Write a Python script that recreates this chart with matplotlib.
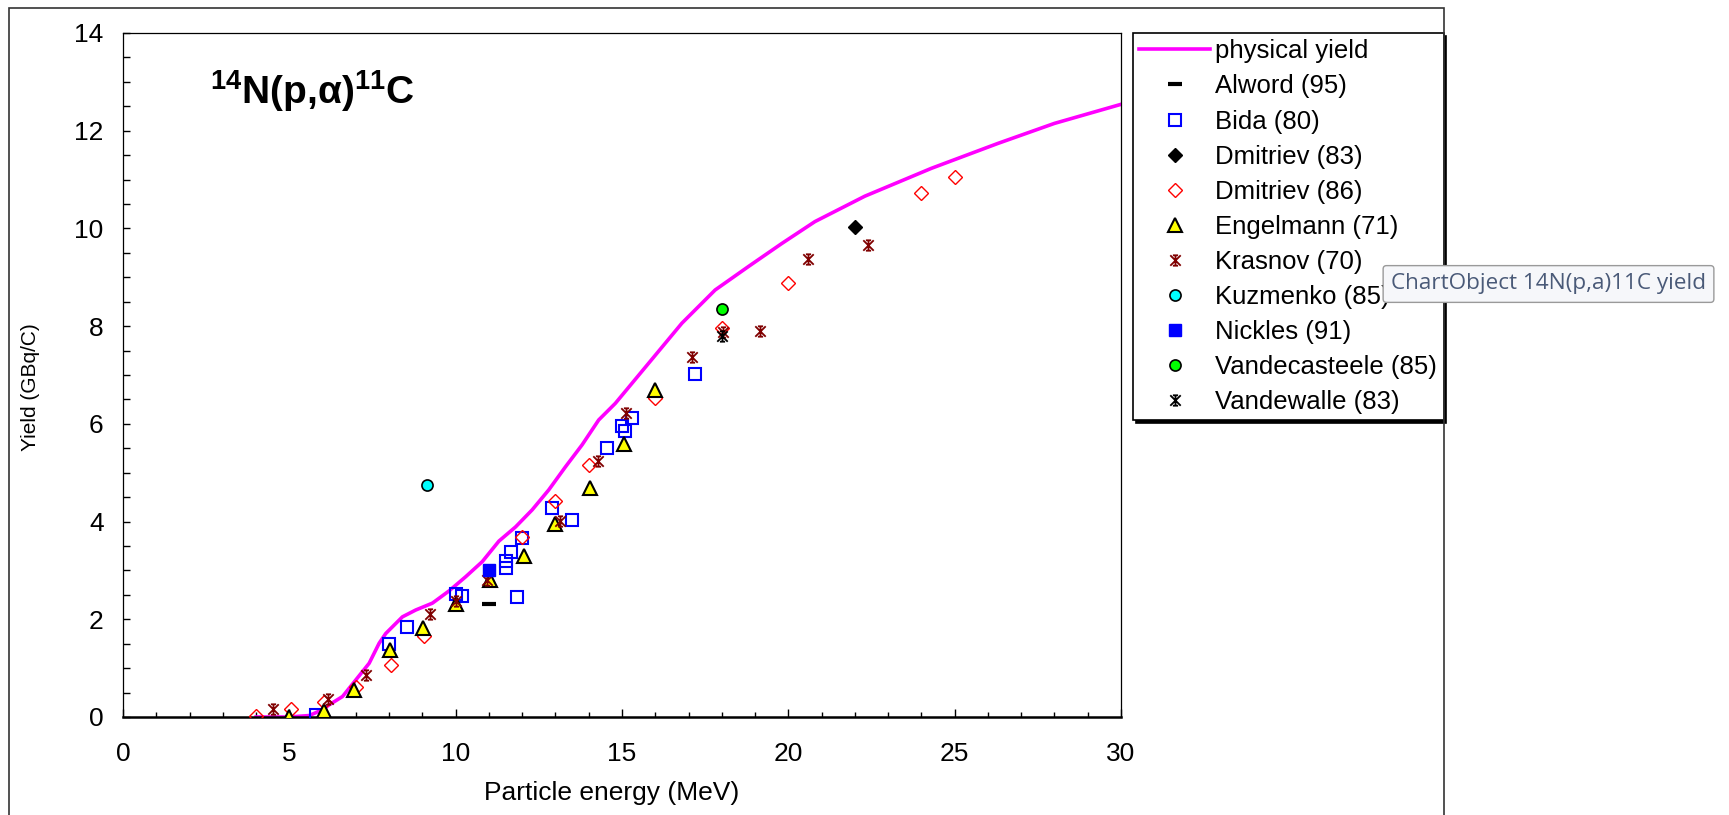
import matplotlib
matplotlib.use('Agg')
import matplotlib.pyplot as plt
from matplotlib.path import Path
from matplotlib.patches import Rectangle
from matplotlib.ticker import MultipleLocator

plt.rcParams['font.family'] = ['Liberation Sans', 'DejaVu Sans']
plt.rcParams['mathtext.fontset'] = 'custom'
plt.rcParams['mathtext.rm'] = 'Liberation Sans'
plt.rcParams['mathtext.bf'] = 'Liberation Sans:bold'

# physical yield curve
energy_curve = [4.0, 5.0, 5.6, 6.0, 6.2, 6.6, 7.0, 7.4, 7.7, 7.9, 8.4, 8.8, 9.3, 9.8,
                10.3, 10.8, 11.3, 11.8, 12.3, 12.8, 13.3, 13.8, 14.3, 14.8, 15.3, 15.8,
                16.8, 17.8, 18.8, 19.8, 20.8, 22.3, 24.3, 26.3, 28.0, 30.0]
yield_curve = [0.0, 0.0, 0.03, 0.15, 0.25, 0.42, 0.76, 1.10, 1.51, 1.71, 2.05, 2.19, 2.33, 2.58,
               2.87, 3.18, 3.60, 3.89, 4.24, 4.65, 5.12, 5.57, 6.08, 6.42, 6.83, 7.24,
               8.06, 8.74, 9.22, 9.69, 10.14, 10.66, 11.23, 11.74, 12.15, 12.54]

# measured data
alword_x = [11.0]
alword_y = [2.31]
bida_x = [5.8, 8.0, 8.55, 10.0, 10.2, 11.5, 11.5, 11.65, 11.85, 12.0, 12.9, 13.5,
          14.55, 15.0, 15.1, 15.3, 17.2]
bida_y = [0.04, 1.49, 1.84, 2.52, 2.47, 3.04, 3.20, 3.38, 2.46, 3.66, 4.27, 4.03,
          5.50, 5.96, 5.86, 6.11, 7.02]
dmitriev83_x = [22.0]
dmitriev83_y = [10.02]
dmitriev86_x = [4.0, 5.05, 6.05, 7.0, 8.05, 9.05, 12.0, 13.0, 14.0, 16.0, 18.0, 20.0, 24.0, 25.0]
dmitriev86_y = [0.02, 0.17, 0.31, 0.61, 1.06, 1.65, 3.68, 4.43, 5.16, 6.52, 7.96, 8.88, 10.73, 11.06]
engelmann_x = [5.0, 6.05, 6.95, 8.03, 9.03, 10.0, 11.03, 12.05, 13.0, 14.04, 15.06, 16.0]
engelmann_y = [0.0, 0.13, 0.55, 1.37, 1.83, 2.31, 2.80, 3.29, 3.96, 4.69, 5.59, 6.70]
krasnov_x = [4.5, 6.15, 7.3, 9.23, 10.0, 10.95, 13.14, 14.29, 15.13, 17.11, 18.05, 19.15, 20.6, 22.4]
krasnov_y = [0.16, 0.36, 0.86, 2.10, 2.38, 2.80, 4.01, 5.23, 6.22, 7.36, 7.88, 7.90, 9.37, 9.66]
kuzmenko_x = [9.15]
kuzmenko_y = [4.74]
nickles_x = [11.0]
nickles_y = [3.0]
vandecasteele_x = [18.0]
vandecasteele_y = [8.35]
vandewalle_x = [18.0]
vandewalle_y = [7.80]

# excel like star marker
M, L = Path.MOVETO, Path.LINETO
star = Path([(-1, -1), (1, 1), (-1, 1), (1, -1), (0, -1), (0, 1),
             (-0.5, 1), (0.5, 1), (-0.5, -1), (0.5, -1)],
            [M, L, M, L, M, L, M, L, M, L])

W, H = 1729, 815
fig = plt.figure(figsize=(W / 100, H / 100), dpi=100)
ax = fig.add_axes([123 / W, 1 - 717 / H, 998 / W, 684 / H])

ax.plot(energy_curve, yield_curve, color='#FF00FF', lw=2.6, label='physical yield', zorder=2)
ax.plot(alword_x, alword_y, ls='none', marker='_', ms=9.5, mew=3, color='black',
        label='Alword (95)', zorder=3)
ax.plot(bida_x, bida_y, ls='none', marker='s', ms=8.5, mfc='none', mec='#0000FF', mew=1.5,
        label='Bida (80)', zorder=3)
ax.plot(dmitriev83_x, dmitriev83_y, ls='none', marker='D', ms=7.5, mfc='black', mec='black',
        label='Dmitriev (83)', zorder=3)
ax.plot(dmitriev86_x, dmitriev86_y, ls='none', marker='D', ms=7.5, mfc='none', mec='#FF0000', mew=1,
        label='Dmitriev (86)', zorder=3)
ax.plot(engelmann_x, engelmann_y, ls='none', marker='^', ms=9.5, mfc='#FFFF00', mec='black', mew=1.5,
        label='Engelmann (71)', zorder=3)
ax.plot(krasnov_x, krasnov_y, ls='none', marker=star, ms=7.5, mec='#800000', mew=1.3,
        label='Krasnov (70)', zorder=3)
ax.plot(kuzmenko_x, kuzmenko_y, ls='none', marker='o', ms=8, mfc='#00FFFF', mec='black', mew=1.2,
        label='Kuzmenko (85)', zorder=3)
ax.plot(nickles_x, nickles_y, ls='none', marker='s', ms=9, mfc='#0000FF', mec='#0000FF',
        label='Nickles (91)', zorder=3)
ax.plot(vandecasteele_x, vandecasteele_y, ls='none', marker='o', ms=8, mfc='#00FF00', mec='black',
        mew=1.2, label='Vandecasteele (85)', zorder=3)
ax.plot(vandewalle_x, vandewalle_y, ls='none', marker=star, ms=7.5, mec='black', mew=1.3,
        label='Vandewalle (83)', zorder=3)

ax.set_xlim(0, 30)
ax.set_ylim(0, 14)
ax.xaxis.set_major_locator(MultipleLocator(5))
ax.xaxis.set_minor_locator(MultipleLocator(1))
ax.yaxis.set_major_locator(MultipleLocator(2))
ax.yaxis.set_minor_locator(MultipleLocator(0.5))
ax.tick_params(axis='x', which='major', direction='in', length=5.5, width=1, labelsize=19, pad=18)
ax.tick_params(axis='x', which='minor', direction='in', length=3.5, width=1)
ax.tick_params(axis='y', which='both', direction='in', length=5, width=1, labelsize=19, pad=14)
for s in ax.spines.values():
    s.set_linewidth(0.9)
ax.spines['bottom'].set_linewidth(1.8)

ax.set_xlabel('Particle energy (MeV)', fontsize=19)
ax.xaxis.set_label_coords(0.49, -0.094)
ax.set_ylabel('Yield (GBq/C)', fontsize=15)
ax.yaxis.set_label_coords(-0.083, 0.482)

ax.text(0.087, 0.896, r'$\mathbf{^{14}N(p{,}\alpha)^{11}C}$', transform=ax.transAxes,
        fontsize=28, va='baseline', ha='left')

leg = ax.legend(loc='upper left', bbox_to_anchor=(1133 / W, 1 - 33 / H), bbox_transform=fig.transFigure,
                borderaxespad=0, fontsize=18.5, labelspacing=0.43, handlelength=2.75,
                handletextpad=0.2, borderpad=0.25, fancybox=False, framealpha=1,
                edgecolor='black', shadow={'color': 'black', 'alpha': 1})
leg.get_frame().set_linewidth(1.2)

# outer chart frame
fig.patches.append(Rectangle((9 / W, -0.05), 1435 / W, 1.05 - 8 / H, transform=fig.transFigure,
                             fill=False, edgecolor='#333333', lw=1.2))

# tooltip
fig.text(1391 / W, 1 - 284 / H, 'ChartObject 14N(p,a)11C yield', family=['Open Sans', 'DejaVu Sans'],
         fontsize=16.2, color='#4a5a78', va='center', ha='left',
         bbox=dict(boxstyle='round,pad=0.35,rounding_size=0.15', fc='#f6f7fa', ec='#9a9a9a', lw=1),
         zorder=10)

fig.savefig('out.png', dpi=100)
